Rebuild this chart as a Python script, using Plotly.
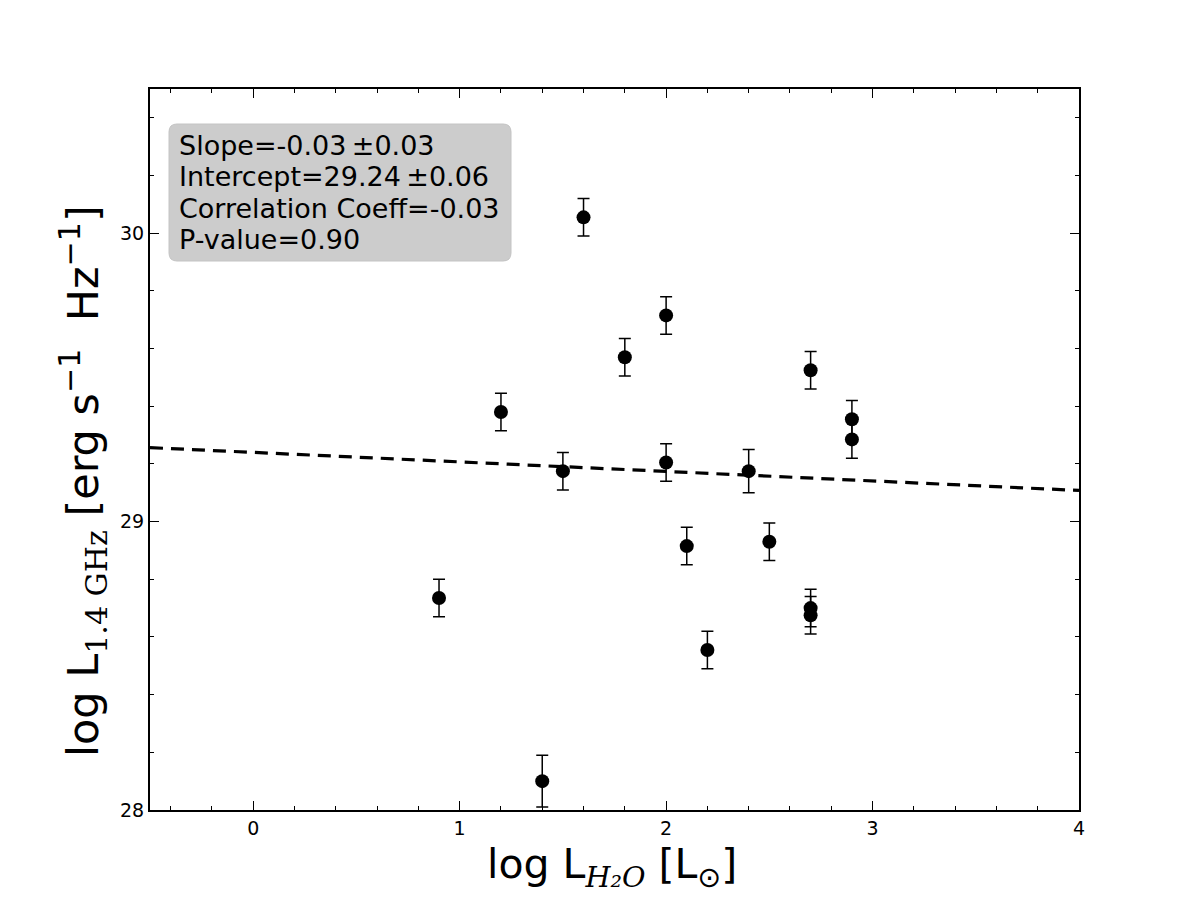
import plotly.graph_objects as go

# Data
log_lh2o = [0.9, 1.2, 1.4, 1.5, 1.6, 1.8, 2.0, 2.0, 2.1, 2.2, 2.4, 2.5, 2.7, 2.7, 2.7, 2.9, 2.9]
log_l14 = [28.735, 29.38, 28.10, 29.175, 30.055, 29.57, 29.715, 29.205, 28.915, 28.555,
           29.175, 28.93, 29.525, 28.70, 28.675, 29.355, 29.285]
err = [0.065, 0.065, 0.09, 0.065, 0.065, 0.065, 0.065, 0.065, 0.065, 0.065,
       0.075, 0.065, 0.065, 0.065, 0.065, 0.065, 0.065]

slope = -0.033
intercept = 29.24
fit_x = [-0.5, 4.0]
fit_y = [intercept + slope * v for v in fit_x]

stats_lines = ["Slope=-0.03\u2009±0.03", "Intercept=29.24\u2009±0.06",
               "Correlation Coeff=-0.03", "P-value=0.90"]

W, H = 1200, 900
L, R, T, B = 150, 121, 89, 90
pw, ph = W - L - R, H - T - B

fig = go.Figure()
fig.add_trace(go.Scatter(x=fit_x, y=fit_y, mode="lines",
                         line=dict(color="black", width=3.2, dash="13px,8px"),
                         showlegend=False, hoverinfo="skip"))
fig.add_trace(go.Scatter(x=log_lh2o, y=log_l14, mode="markers",
                         marker=dict(color="black", size=14),
                         error_y=dict(type="data", array=err, visible=True,
                                      color="black", thickness=1.5, width=6),
                         showlegend=False))

def px(xp):
    return (xp - L) / pw
def py(yp):
    return 1 - (yp - T) / ph

# rounded box
x0p, x1p, y0p, y1p, r = 169, 511, 124, 261, 8
path = (f"M {px(x0p+r)},{py(y0p)} L {px(x1p-r)},{py(y0p)} "
        f"Q {px(x1p)},{py(y0p)} {px(x1p)},{py(y0p+r)} "
        f"L {px(x1p)},{py(y1p-r)} Q {px(x1p)},{py(y1p)} {px(x1p-r)},{py(y1p)} "
        f"L {px(x0p+r)},{py(y1p)} Q {px(x0p)},{py(y1p)} {px(x0p)},{py(y1p-r)} "
        f"L {px(x0p)},{py(y0p+r)} Q {px(x0p)},{py(y0p)} {px(x0p+r)},{py(y0p)} Z")
fig.add_shape(type="path", path=path, xref="paper", yref="paper",
              fillcolor="#cccccc", line=dict(color="#c4c4c4", width=1), layer="above")

line_centers = [146, 177, 208, 239]
for txt, yc in zip(stats_lines, line_centers):
    fig.add_annotation(x=px(177), y=py(yc), xref="paper", yref="paper",
                       xanchor="left", yanchor="middle", align="left", showarrow=False,
                       text=txt, font=dict(family="DejaVu Sans", size=27, color="black"))

# axis titles
fig.add_annotation(x=px(612), y=py(867), xref="paper", yref="paper", showarrow=False,
                   xanchor="center", yanchor="middle",
                   text=("log L<sub><span style=\"font-family:DejaVu Serif\"><i>H₂O</i></span></sub>"
                         " [L<sub>⊙</sub>]"),
                   font=dict(family="DejaVu Sans", size=41, color="black"))
fig.add_annotation(x=px(83), y=py(481), xref="paper", yref="paper", showarrow=False,
                   xanchor="center", yanchor="middle", textangle=-90,
                   text=("log L<sub><span style=\"font-family:DejaVu Serif\">1.4 GHz</span></sub>"
                         " [erg s<sup>−1</sup>  Hz<sup>−1</sup>]"),
                   font=dict(family="DejaVu Sans", size=43, color="black"))

axis_common = dict(showgrid=False, zeroline=False, showline=True, linecolor="black",
                   linewidth=2, mirror="ticks", ticks="inside", ticklen=9, tickwidth=1,
                   tickcolor="black", tickfont=dict(family="DejaVu Sans", size=19, color="black"))
fig.update_xaxes(range=[-0.5, 4.0], tick0=0, dtick=1,
                 minor=dict(ticks="inside", ticklen=4, dtick=0.2, tick0=0, tickcolor="black"),
                 **axis_common)
fig.update_yaxes(range=[28.0, 30.5], tick0=28, dtick=1,
                 minor=dict(ticks="inside", ticklen=4, dtick=0.2, tick0=28, tickcolor="black"),
                 **axis_common)

fig.update_layout(width=W, height=H, margin=dict(l=L, r=R, t=T, b=B),
                  plot_bgcolor="white", paper_bgcolor="white",
                  font=dict(family="DejaVu Sans"))
fig.write_html("out.html")
